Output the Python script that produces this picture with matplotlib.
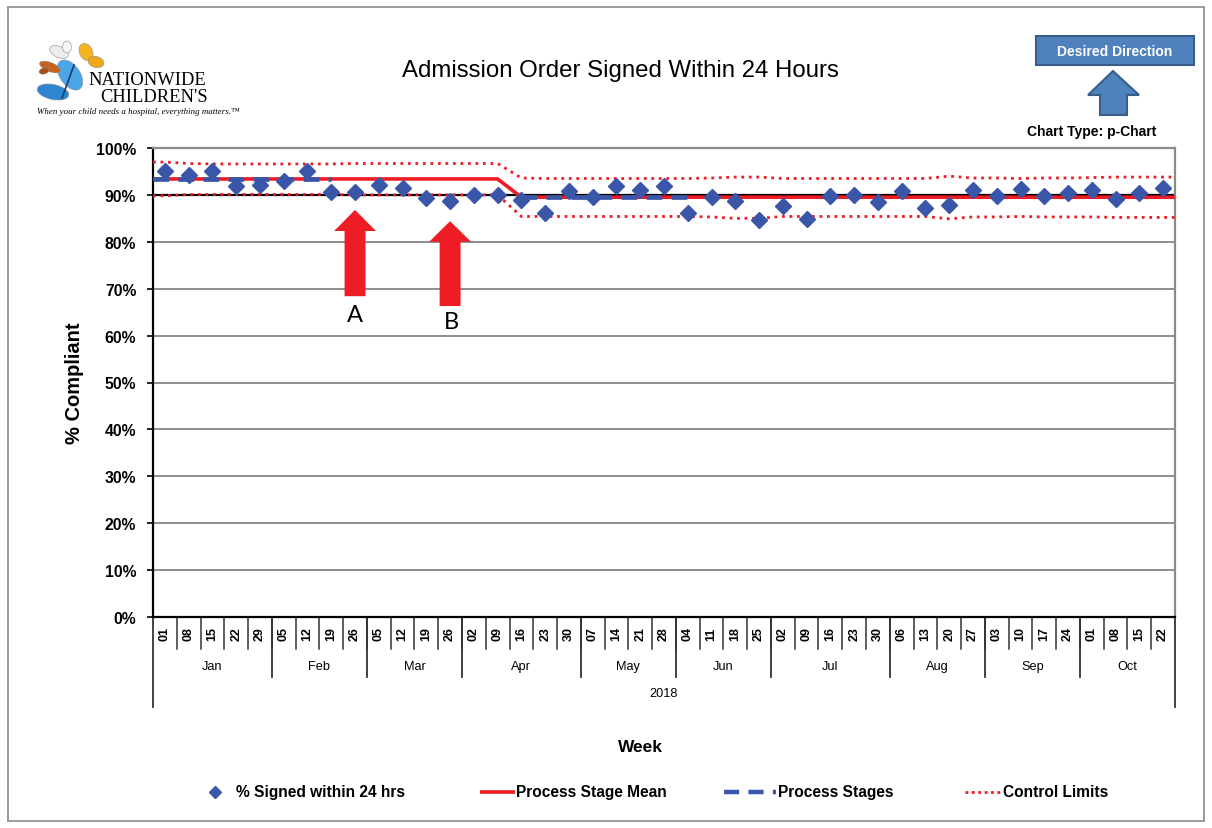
import matplotlib
matplotlib.use('Agg')
import matplotlib.pyplot as plt
import numpy as np
from matplotlib.patches import Polygon, Rectangle, Ellipse
from matplotlib import transforms
from matplotlib import font_manager as fm

# ---------------- data ----------------
months = ['Jan', 'Feb', 'Mar', 'Apr', 'May', 'Jun', 'Jul', 'Aug', 'Sep', 'Oct']
week_days = [['01', '08', '15', '22', '29'], ['05', '12', '19', '26'], ['05', '12', '19', '26'],
             ['02', '09', '16', '23', '30'], ['07', '14', '21', '28'], ['04', '11', '18', '25'],
             ['02', '09', '16', '23', '30'], ['06', '13', '20', '27'], ['03', '10', '17', '24'],
             ['01', '08', '15', '22']]
year_label = '2018'

pct_signed = [95.1, 94.2, 95.0, 92.0, 92.1, 93.0, 95.0, 90.6, 90.6, 92.2, 91.4, 89.3, 88.8,
              90.0, 90.0, 88.9, 86.1, 90.9, 89.5, 91.8, 91.1, 91.8, 86.1, 89.6, 88.8, 84.7,
              87.6, 84.9, 89.7, 89.9, 88.4, 90.9, 87.3, 87.9, 91.1, 89.7, 91.3, 89.7, 90.5,
              91.0, 89.1, 90.5, 91.5]
stage_mean = [93.4] * 15 + [89.5] * 28
nan = float('nan')
process_stages = [93.4] * 8 + [nan] * 7 + [89.5] * 8 + [nan] * 20
ucl = [97.0, 96.7, 96.6, 96.6, 96.6, 96.6, 96.6, 96.6, 96.7, 96.7, 96.7, 96.7, 96.7, 96.7, 96.7,
       93.6, 93.5, 93.5, 93.5, 93.5, 93.5, 93.5, 93.5, 93.6, 93.8, 93.8, 93.5, 93.5, 93.5, 93.5,
       93.5, 93.5, 93.5, 94.0, 93.6, 93.6, 93.5, 93.6, 93.6, 93.7, 93.8, 93.8, 93.8]
lcl = [89.8, 90.1, 90.1, 90.1, 90.1, 90.1, 90.1, 90.1, 90.0, 90.0, 90.0, 90.0, 90.0, 90.0, 90.0,
       85.4, 85.4, 85.4, 85.4, 85.4, 85.4, 85.4, 85.4, 85.3, 85.0, 85.0, 85.4, 85.4, 85.4, 85.4,
       85.4, 85.4, 85.4, 84.9, 85.3, 85.3, 85.4, 85.3, 85.3, 85.3, 85.2, 85.2, 85.2]
target = 90.0
yticks = list(range(0, 101, 10))

# annotation arrows (category index, tip, head base, bottom)
arrow_A = (8, 86.8, 82.3, 68.4)
arrow_B = (12, 84.4, 80.0, 66.3)

# ---------------- fonts ----------------
names = {f.name for f in fm.fontManager.ttflist}
SANS = 'Liberation Sans'
NARROW = 'Liberation Sans Narrow' if 'Liberation Sans Narrow' in names else 'Liberation Sans'
nscale = 1.0 if NARROW == 'Liberation Sans Narrow' else 0.84
plt.rcParams['font.family'] = [SANS, 'DejaVu Sans']

W, H = 1212, 829
fig = plt.figure(figsize=(W / 100, H / 100), dpi=100)

# overlay in pixel coordinates
ov = fig.add_axes([0, 0, 1, 1], zorder=0)
ov.set_xlim(0, W)
ov.set_ylim(H, 0)
ov.axis('off')

# plot area
L, R, T, B = 153, 1175, 149, 618
ax = fig.add_axes([L / W, 1 - B / H, (R - L) / W, (B - T) / H], zorder=1)

n = len(pct_signed)
idx = np.arange(n)
ax.set_xlim(-0.5, n - 0.5)
ax.set_ylim(0, 100)

RED = '#EE1C25'
BLUE = '#3A56A8'

for v in yticks[1:-1]:
    ax.axhline(v, color='#858585', lw=1.3, zorder=1)
ax.axhline(target, color='black', lw=1.6, zorder=2)

xe = np.concatenate([[-0.5], idx, [n - 0.5]])


def ext(vals):
    vals = list(vals)
    return np.array([vals[0]] + vals + [vals[-1]], dtype=float)


ax.plot(xe, ext(ucl), color=RED, lw=2.0, linestyle=(0, (1, 1.7)), zorder=3)
ax.plot(xe, ext(lcl), color=RED, lw=2.0, linestyle=(0, (1, 1.7)), zorder=3)
ax.plot(xe, ext(stage_mean), color=RED, lw=2.6, zorder=4, solid_capstyle='butt')
ps = np.array(process_stages, dtype=float)
ps_x = np.concatenate([[-0.5], idx])
ps_y = np.concatenate([[ps[0]], ps])
ax.plot(ps_x, ps_y, color=BLUE, lw=3.4, linestyle=(0, (3.3, 2.0)), dash_capstyle='butt', zorder=5)
ax.plot(idx, pct_signed, linestyle='none', marker='D', markersize=8.0, color=BLUE, zorder=6)

# red arrows
for (cx, tip, base, bot) in [arrow_A, arrow_B]:
    hw, sw = 0.88, 0.44
    pts = [(cx - hw, base), (cx, tip), (cx + hw, base), (cx + sw, base), (cx + sw, bot),
           (cx - sw, bot), (cx - sw, base)]
    ax.add_patch(Polygon(pts, closed=True, facecolor=RED, edgecolor='none', zorder=7))
ax.text(arrow_A[0], 64.6, 'A', ha='center', va='center', fontsize=17, family=['Lato', 'DejaVu Sans'])
ax.text(arrow_B[0] + 0.05, 62.9, 'B', ha='center', va='center', fontsize=17, family=['Lato', 'DejaVu Sans'])

# axes styling
ax.set_yticks(yticks)
ax.set_yticklabels([f'{v}%' for v in yticks], fontweight='bold', fontsize=11.3)
ax.tick_params(axis='y', direction='out', length=4, width=1.2, pad=8, colors='black')
ax.set_xticks([])
for s in ['left', 'bottom']:
    ax.spines[s].set_color('black')
    ax.spines[s].set_linewidth(1.6)
for s in ['top', 'right']:
    ax.spines[s].set_color('#8a8a8a')
    ax.spines[s].set_linewidth(1.6)

# multi-level category axis
tr = transforms.blended_transform_factory(ax.transData, ax.transAxes)
hpx = B - T
cat_bot = -32 / hpx
mon_bot = -60 / hpx
out_bot = -90 / hpx
pos = 0
mfs = 10 * nscale + (0 if nscale == 1 else 0.8)
for mi, (m, days) in enumerate(zip(months, week_days)):
    for d in days:
        ax.text(pos, -16 / hpx, d, transform=tr, rotation=90, ha='center', va='center',
                fontsize=9, fontweight='bold')
        pos += 1
    start = pos - len(days)
    ax.text((start + pos - 1) / 2, -49 / hpx, m, transform=tr, ha='center', va='center',
            fontsize=mfs, family=[NARROW, SANS])
for i in range(1, n):
    ax.plot([i - 0.5, i - 0.5], [0, cat_bot], transform=tr, color='#333333', lw=1.1, clip_on=False)
bounds = np.cumsum([len(d) for d in week_days])[:-1]
for b in bounds:
    ax.plot([b - 0.5, b - 0.5], [0, mon_bot], transform=tr, color='#333333', lw=1.3, clip_on=False)
for b in [-0.5, n - 0.5]:
    ax.plot([b, b], [0, out_bot], transform=tr, color='#333333', lw=1.3, clip_on=False)
ax.text((n - 1) / 2, -76 / hpx, year_label, transform=tr, ha='center', va='center',
        fontsize=mfs, family=[NARROW, SANS])

# ---------------- overlay decorations ----------------
ov.add_patch(Rectangle((8, 8), 1196, 814, facecolor='none', edgecolor='#9a9a9a', lw=1.4))

ov.text(620, 71, 'Admission Order Signed Within 24 Hours', ha='center', va='center', fontsize=17.3)
ov.text(75, 383, '% Compliant', rotation=90, ha='center', va='center', fontsize=14.5, fontweight='bold')
ov.text(640, 747, 'Week', ha='center', va='center', fontsize=12.5, fontweight='bold')

# desired direction box and arrow
ov.add_patch(Rectangle((1036, 37), 158, 29, facecolor='#4F81BD', edgecolor='#385D8A', lw=1.5))
ov.text(1115, 51.5, 'Desired Direction', ha='center', va='center', color='white',
        fontsize=10.0, fontweight='bold', family=[SANS])
ov.add_patch(Polygon([(1113, 72), (1088, 96), (1100, 96), (1100, 116), (1127, 116), (1127, 96),
                      (1139, 96)], closed=True, facecolor='#4F81BD', edgecolor='#385D8A', lw=1.5))
ov.text(1092, 132, 'Chart Type: p-Chart', ha='center', va='center', fontsize=10.0,
        fontweight='bold', family=[SANS])

# logo
wings = [((70, 76), 20, 34, -35, '#4AA6E6'), ((53, 93), 32, 15, 12, '#2F86D0'),
         ((50, 68), 22, 9, 22, '#C8621C'), ((44, 72), 10, 6, -15, '#A84E16'),
         ((59, 53), 20, 11, 25, '#EDEDED'), ((67, 48), 9, 12, 0, '#F7F7F7'),
         ((86, 53), 13, 18, -25, '#F6B520'), ((96, 63), 16, 11, 15, '#F0A818')]
for (c, w, h, a, col) in wings:
    ov.add_patch(Ellipse(c, w, h, angle=a, facecolor=col, edgecolor='#8a8a8a', lw=0.4))
ov.plot([62, 74], [99, 66], color='#1a3a6a', lw=1.2)
ov.text(88, 80, 'NATIONWIDE', ha='left', va='center', fontsize=13.3, family=['Liberation Serif'])
ov.text(100, 97.5, "CHILDREN'S", ha='left', va='center', fontsize=13.3, family=['Liberation Serif'])
ov.text(37, 112, 'When your child needs a hospital, everything matters.\u2122', ha='left', va='center',
        fontsize=6.4, style='italic', family=['Liberation Serif', 'DejaVu Serif'])

# legend
LY = 793
lfs = 11.2
ov.plot([215], [LY], marker='D', markersize=6, color=BLUE, linestyle='none')
ov.text(236, LY, '% Signed within 24 hrs', ha='left', va='center', fontsize=lfs, fontweight='bold', family=[SANS])
ov.plot([480, 515], [LY, LY], color=RED, lw=2.6, solid_capstyle='butt')
ov.text(516, LY, 'Process Stage Mean', ha='left', va='center', fontsize=lfs, fontweight='bold', family=[SANS])
ov.plot([724, 776], [LY, LY], color=BLUE, lw=3.2, linestyle=(0, (3.4, 2.1)), dash_capstyle='butt')
ov.text(778, LY, 'Process Stages', ha='left', va='center', fontsize=lfs, fontweight='bold', family=[SANS])
ov.plot([965, 1001], [LY, LY], color=RED, lw=2.0, linestyle=(0, (1, 1.3)))
ov.text(1003, LY, 'Control Limits', ha='left', va='center', fontsize=lfs, fontweight='bold', family=[SANS])

fig.savefig('out.png', dpi=100)
